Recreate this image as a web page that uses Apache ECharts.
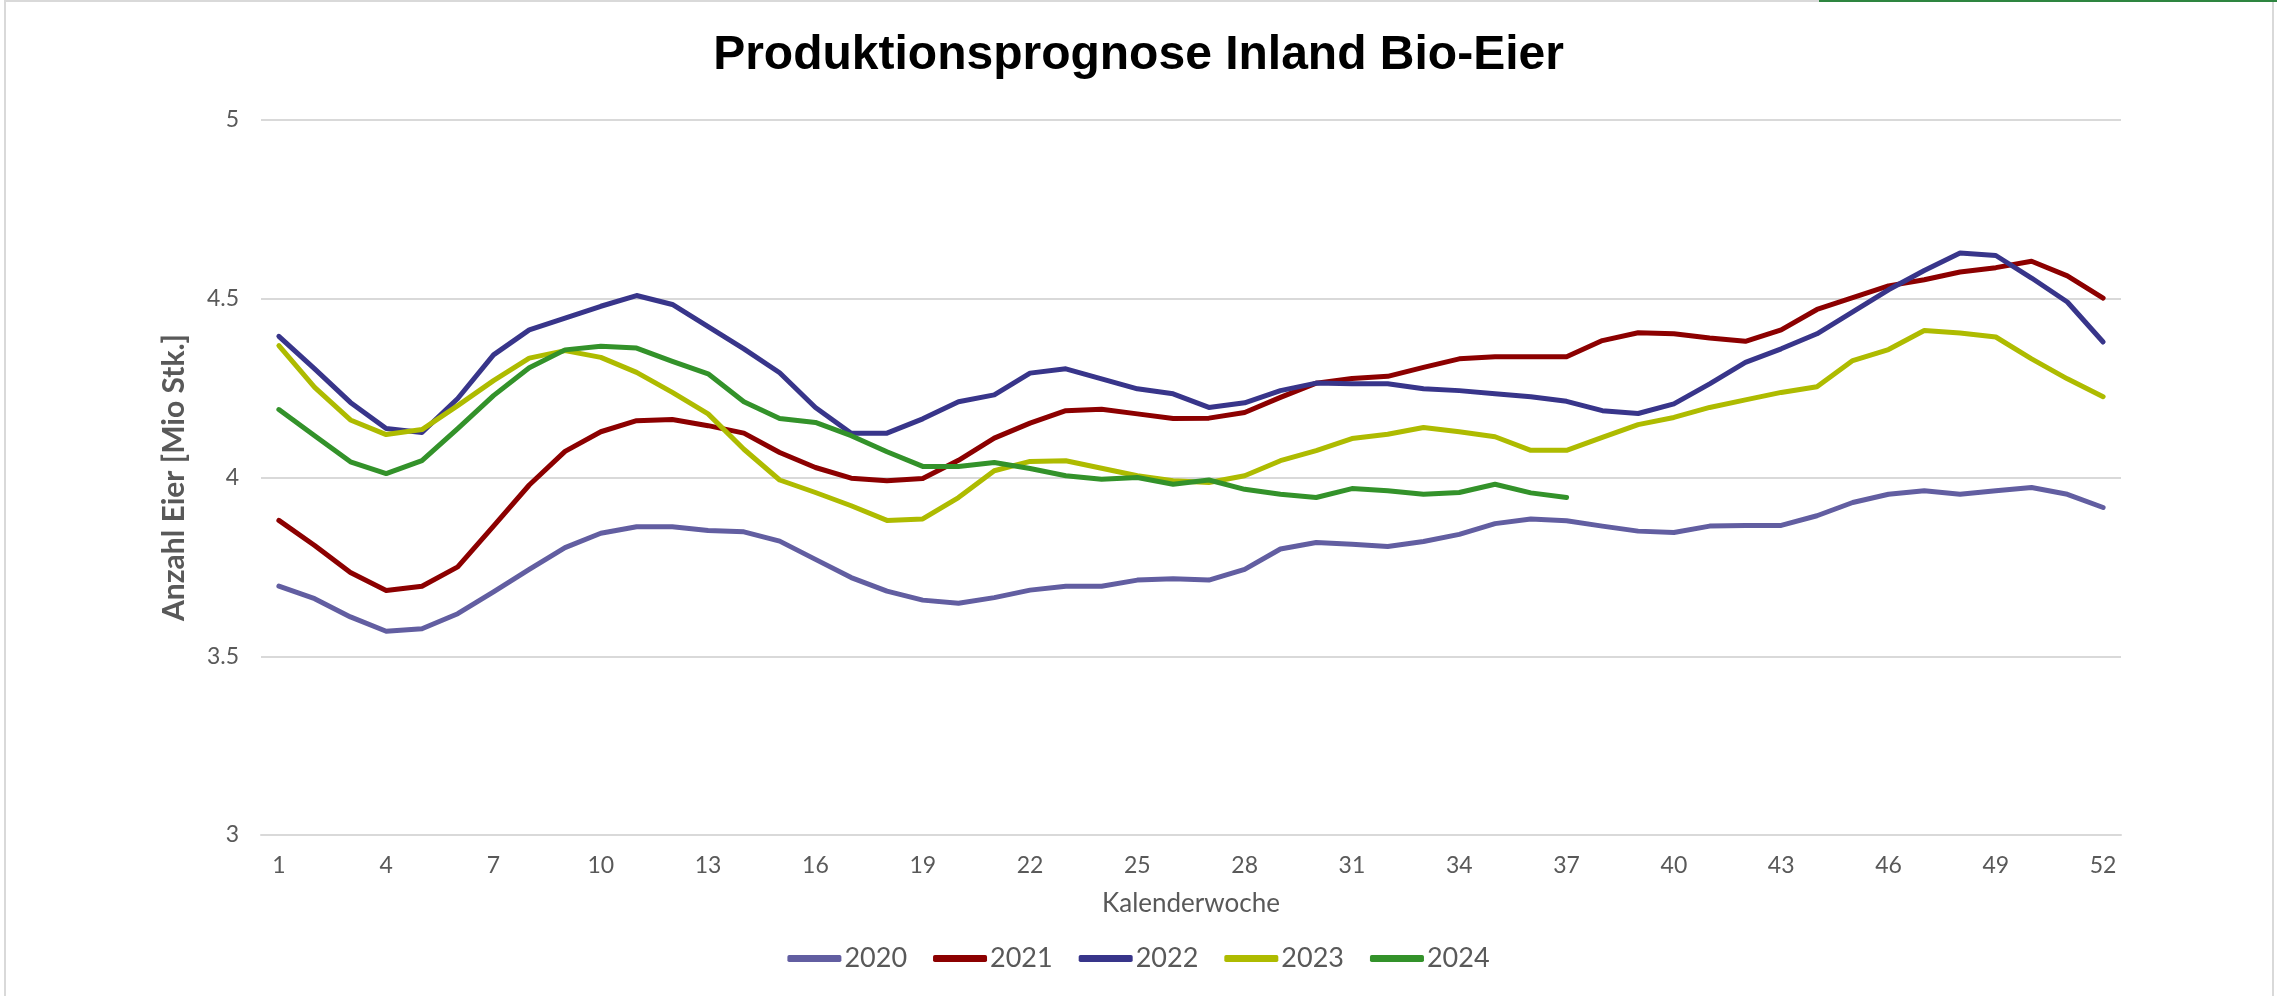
<!DOCTYPE html>
<html>
<head>
<meta charset="utf-8">
<script src="https://cdn.jsdelivr.net/npm/echarts@6/dist/echarts.min.js"></script>
<style>
    html, body { margin: 0; padding: 0; background: #fff; }
    #chart { width: 2277px; height: 996px; }
</style>
</head>
<body>
<div id="chart"></div>
<script>
// Kalenderwochen 1..52
const weeks = [];
for (let i = 1; i <= 52; i++) weeks.push(String(i));

const years = ['2020', '2021', '2022', '2023', '2024'];
const colors = ['#625EA1', '#8C0000', '#38358A', '#AEBB00', '#33922A'];

const data2020 = [3.696, 3.661, 3.610, 3.570, 3.577, 3.619, 3.680, 3.743, 3.804, 3.844, 3.862, 3.862, 3.852, 3.848, 3.822, 3.771, 3.720, 3.682, 3.657,
    3.648, 3.664, 3.685, 3.696, 3.696, 3.713, 3.717, 3.713, 3.743, 3.800, 3.818, 3.813, 3.807, 3.821, 3.841, 3.871, 3.884, 3.879,
    3.864, 3.850, 3.846, 3.864, 3.866, 3.866, 3.893, 3.930, 3.953, 3.963, 3.953, 3.963, 3.972, 3.953, 3.916];
const data2021 = [3.880, 3.810, 3.734, 3.684, 3.696, 3.750, 3.864, 3.979, 4.073, 4.128, 4.159, 4.162, 4.145, 4.124, 4.070, 4.028, 3.998, 3.991, 3.997,
    4.048, 4.110, 4.152, 4.187, 4.191, 4.178, 4.165, 4.166, 4.182, 4.224, 4.264, 4.277, 4.283, 4.308, 4.332, 4.338, 4.338, 4.338,
    4.383, 4.405, 4.402, 4.390, 4.381, 4.413, 4.470, 4.503, 4.536, 4.553, 4.575, 4.587, 4.605, 4.564, 4.502];
const data2022 = [4.395, 4.304, 4.210, 4.137, 4.126, 4.221, 4.343, 4.413, 4.446, 4.479, 4.509, 4.484, 4.422, 4.360, 4.293, 4.196, 4.124, 4.124, 4.164,
    4.212, 4.231, 4.292, 4.304, 4.276, 4.248, 4.234, 4.196, 4.209, 4.243, 4.264, 4.262, 4.262, 4.248, 4.243, 4.234, 4.226, 4.213,
    4.187, 4.179, 4.206, 4.262, 4.322, 4.360, 4.402, 4.463, 4.525, 4.579, 4.628, 4.621, 4.558, 4.491, 4.379];
const data2023 = [4.369, 4.252, 4.161, 4.120, 4.134, 4.201, 4.271, 4.334, 4.355, 4.336, 4.294, 4.238, 4.178, 4.079, 3.993, 3.958, 3.921, 3.880, 3.884,
    3.944, 4.019, 4.045, 4.047, 4.026, 4.005, 3.991, 3.986, 4.005, 4.047, 4.075, 4.109, 4.121, 4.140, 4.128, 4.114, 4.076, 4.076,
    4.112, 4.148, 4.168, 4.196, 4.217, 4.238, 4.254, 4.327, 4.358, 4.411, 4.404, 4.393, 4.332, 4.276, 4.226];
const data2024 = [4.190, 4.117, 4.044, 4.011, 4.047, 4.137, 4.229, 4.307, 4.357, 4.367, 4.362, 4.325, 4.290, 4.212, 4.165, 4.154, 4.117, 4.072, 4.031,
    4.031, 4.042, 4.025, 4.005, 3.995, 4.000, 3.981, 3.993, 3.967, 3.953, 3.944, 3.969, 3.963, 3.953, 3.958, 3.981, 3.957, 3.944];

const allData = [data2020, data2021, data2022, data2023, data2024];

const labelColor = '#595959';
const labelFont = 'Lato, "Noto Sans", sans-serif';

const chart = echarts.init(document.getElementById('chart'));

const series = [];
for (let i in years) {
    series.push({
        name: years[i],
        type: 'line',
        data: allData[i],
        symbol: 'none',
        color: colors[i],
        lineStyle: {
            width: 5,
            color: colors[i],
            cap: 'round',
            join: 'round'
        }
    });
}

const option = {
    backgroundColor: '#fff',
    animation: false,
    title: {
        text: 'Produktionsprognose Inland Bio-Eier',
        left: 'center',
        top: 27,
        textStyle: {
            fontFamily: '"Liberation Sans", Arial, sans-serif',
            fontWeight: 'bold',
            fontSize: 48,
            color: '#000'
        }
    },
    legend: {
        data: years,
        bottom: 19,
        left: 'center',
        icon: 'roundRect',
        itemWidth: 54,
        itemHeight: 7,
        itemGap: 26,
        textStyle: {
            fontFamily: labelFont,
            fontSize: 27,
            color: labelColor,
            padding: [0, 0, 0, -2]
        }
    },
    grid: {
        left: 261,
        right: 156,
        top: 120,
        bottom: 161
    },
    xAxis: {
        type: 'category',
        data: weeks,
        boundaryGap: true,
        name: 'Kalenderwoche',
        nameLocation: 'middle',
        nameGap: 56,
        nameTextStyle: {
            fontFamily: labelFont,
            fontSize: 26,
            color: labelColor
        },
        axisLine: { show: true, lineStyle: { color: '#D9D9D9', width: 2 } },
        axisTick: { show: false },
        axisLabel: {
            interval: 2,
            margin: 19,
            fontFamily: labelFont,
            fontSize: 23,
            color: labelColor
        }
    },
    yAxis: {
        type: 'value',
        min: 3,
        max: 5,
        interval: 0.5,
        name: 'Anzahl Eier [Mio Stk.]',
        nameLocation: 'middle',
        nameGap: 72,
        nameRotate: 90,
        nameTextStyle: {
            fontFamily: labelFont,
            fontWeight: 'bold',
            fontSize: 30,
            color: labelColor
        },
        axisLine: { show: false },
        axisTick: { show: false },
        axisLabel: {
            margin: 22,
            fontFamily: labelFont,
            fontSize: 23,
            color: labelColor
        },
        splitLine: { lineStyle: { color: '#D9D9D9', width: 2 } }
    },
    graphic: [
        {
            type: 'rect',
            shape: { x: 5, y: 1, width: 2268, height: 1010 },
            style: { fill: 'none', stroke: '#D9D9D9', lineWidth: 2 },
            silent: true
        },
        {
            type: 'rect',
            shape: { x: 1819, y: 0, width: 458, height: 2 },
            style: { fill: '#2E8540' },
            silent: true
        }
    ],
    series: series
};

chart.setOption(option);
</script>
</body>
</html>
